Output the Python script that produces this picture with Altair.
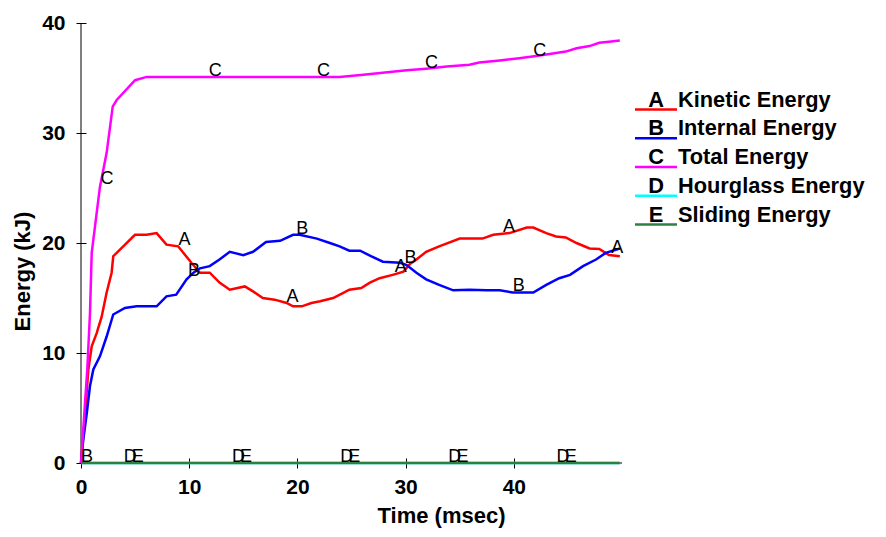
import altair as alt
import pandas as pd

# ---------------- data ----------------
series_names = ["Kinetic Energy", "Internal Energy", "Total Energy",
                "Hourglass Energy", "Sliding Energy"]
letters = ["A", "B", "C", "D", "E"]
colors = ["#ff0000", "#0000ff", "#ff00ff", "#00ffff", "#2e8040"]

# A  Kinetic Energy
a_t = [0, 0.3, 0.68, 0.99, 1.45, 1.91, 2.37, 2.83, 2.98, 4.99, 6.07, 6.99, 7.9, 8.98,
       10.2, 11.0, 11.9, 12.8, 13.75, 15.14, 15.9, 16.8, 17.9, 19.0, 19.6, 20.4, 21.3,
       22.1, 23.3, 24.2, 24.8, 25.9, 26.7, 27.6, 28.8, 29.8, 30.4, 31.0, 31.9, 33.1,
       35.0, 37.1, 38.1, 39.6, 41.2, 41.8, 43.0, 43.9, 44.8, 45.8, 47.0, 47.9, 48.8, 49.8]
a_v = [0, 3.5, 8.5, 10.6, 11.8, 13.3, 15.5, 17.3, 18.8, 20.75, 20.75, 20.9, 19.85, 19.7,
       18.2, 17.3, 17.3, 16.4, 15.75, 16.05, 15.6, 15.0, 14.85, 14.55, 14.24, 14.24, 14.55,
       14.7, 15.0, 15.45, 15.75, 15.9, 16.4, 16.8, 17.1, 17.4, 18.1, 18.5, 19.2, 19.7,
       20.4, 20.4, 20.75, 20.9, 21.4, 21.4, 20.9, 20.6, 20.5, 20.0, 19.5, 19.45, 18.9, 18.8]

# B  Internal Energy
b_t = [0, 0.21, 0.53, 0.83, 1.14, 1.75, 2.37, 2.98, 4.06, 5.14, 6.99, 7.9, 8.8, 9.76,
       10.4, 11.0, 11.9, 12.8, 13.75, 15.0, 15.9, 17.1, 18.4, 19.6, 20.2, 21.8, 23.0,
       23.9, 24.8, 25.8, 26.8, 27.9, 29.5, 30.1, 31.0, 31.9, 33.1, 34.4, 35.9, 37.5,
       38.7, 39.9, 41.8, 43.0, 44.2, 45.2, 46.4, 47.6, 48.5, 49.8]
b_v = [0, 2.1, 4.5, 7.0, 8.5, 9.7, 11.5, 13.5, 14.1, 14.24, 14.24, 15.15, 15.3, 16.7,
       17.3, 17.7, 17.9, 18.5, 19.2, 18.9, 19.2, 20.1, 20.2, 20.75, 20.75, 20.4, 20.0,
       19.7, 19.3, 19.3, 18.8, 18.3, 18.2, 18.0, 17.3, 16.7, 16.2, 15.7, 15.75, 15.7,
       15.7, 15.5, 15.5, 16.2, 16.8, 17.1, 17.9, 18.5, 19.1, 19.5]

# C  Total Energy
c_t = [0, 0.15, 0.37, 0.58, 0.83, 0.99, 1.75, 2.37, 2.93, 3.3, 5.0, 6.07, 23.9, 26.1,
       28.1, 30.1, 31.9, 33.8, 35.9, 36.8, 38.7, 40.5, 42.4, 44.8, 45.8, 47.0, 47.9,
       48.8, 49.8]
c_v = [0, 2.1, 5.5, 8.5, 13.6, 19.1, 25.1, 28.2, 32.4, 33.0, 34.8, 35.1, 35.1, 35.3,
       35.5, 35.7, 35.85, 36.05, 36.2, 36.4, 36.6, 36.8, 37.05, 37.4, 37.7, 37.9, 38.2,
       38.3, 38.4]

# D  Hourglass Energy, E  Sliding Energy
d_t = [0, 49.8]
d_v = [0, 0]
e_t = [0, 49.8]
e_v = [0, 0]

# curve letter markers
lab_a_t = [9.0, 19.0, 29.0, 39.0, 49.0]
lab_a_v = [19.7, 14.55, 17.3, 20.9, 19.0]
lab_b_t = [0.0, 9.9, 19.9, 29.9, 39.9]
lab_b_v = [0.0, 16.9, 20.75, 18.1, 15.55]
lab_c_t = [1.8, 11.8, 21.8, 31.8, 41.8]
lab_c_v = [25.3, 35.1, 35.1, 35.85, 36.9]
lab_d_t = [3.95, 13.95, 23.95, 33.95, 43.95]
lab_d_v = [0, 0, 0, 0, 0]
lab_e_t = [4.7, 14.7, 24.7, 34.7, 44.7]
lab_e_v = [0, 0, 0, 0, 0]

# axis frame lines
yaxis_t = [0, 0]
yaxis_v = [0, 40]
xaxis_t = [0, 50]
xaxis_v = [0, 0]

x_ticks = [0, 10, 20, 30, 40]
y_ticks = [0, 10, 20, 30, 40]

# ---------------- build tables ----------------
curves = [(a_t, a_v), (b_t, b_v), (c_t, c_v), (d_t, d_v), (e_t, e_v)]
marks = [(lab_a_t, lab_a_v), (lab_b_t, lab_b_v), (lab_c_t, lab_c_v),
         (lab_d_t, lab_d_v), (lab_e_t, lab_e_v)]

FONT = "Liberation Sans"

color_scale = alt.Scale(domain=series_names, range=colors)

x_enc = alt.X("t:Q", scale=alt.Scale(domain=[0, 50], nice=False, zero=False),
              axis=alt.Axis(values=x_ticks, title="Time (msec)", domain=False, grid=False,
                            offset=-5, tickSize=10, tickColor="black", tickWidth=1,
                            labelFont=FONT, labelFontSize=21, labelFontWeight="bold",
                            labelColor="black", labelPadding=8, labelFlush=False,
                            titleFont=FONT, titleFontSize=22, titleFontWeight="bold",
                            titleColor="black", titleX=360, titleY=57,
                            titleBaseline="middle", titleAlign="center"))
y_enc = alt.Y("v:Q", scale=alt.Scale(domain=[0, 40], nice=False, zero=False),
              axis=alt.Axis(values=y_ticks, title="Energy (kJ)", domain=False, grid=False,
                            offset=-5, tickSize=10, tickColor="black", tickWidth=1,
                            labelFont=FONT, labelFontSize=21, labelFontWeight="bold",
                            labelColor="black", labelPadding=11,
                            titleFont=FONT, titleFontSize=22, titleFontWeight="bold",
                            titleColor="black", titleX=-64, titleY=248,
                            titleBaseline="middle", titleAlign="center", titleAngle=-90))

layers = []

frame_df = pd.DataFrame({"t": yaxis_t + xaxis_t, "v": yaxis_v + xaxis_v,
                         "k": ["y", "y", "x", "x"]})
layers.append(alt.Chart(frame_df).mark_line(color="black", strokeWidth=1)
              .encode(x=x_enc, y=y_enc, detail="k:N"))

for name, (ts, vs) in zip(series_names, curves):
    df = pd.DataFrame({"t": ts, "v": vs, "series": name})
    layers.append(alt.Chart(df).mark_line(strokeWidth=2.5, interpolate="linear")
                  .encode(x=x_enc, y=y_enc,
                          color=alt.Color("series:N", scale=color_scale, legend=None)))

for letter, (ts, vs) in zip(letters, marks):
    df = pd.DataFrame({"t": ts, "v": vs, "letter": letter})
    layers.append(alt.Chart(df).mark_text(align="left", baseline="alphabetic", dy=-1,
                                          font=FONT, fontSize=18, color="black")
                  .encode(x=x_enc, y=y_enc, text="letter:N"))

main = alt.layer(*layers)

# ---------------- legend ----------------
legend_df = pd.DataFrame({"series": series_names, "letter": letters,
                          "idx": list(range(len(series_names)))})
ly = alt.Y("idx:Q", scale=alt.Scale(domain=[0, 4], range=[86.5, 201.5]), axis=None)
leg_base = alt.Chart(legend_df)
leg_lines = leg_base.mark_rule(strokeWidth=2.5).encode(
    x=alt.value(554), x2=alt.value(596), y=ly,
    color=alt.Color("series:N", scale=color_scale, legend=None))
leg_letters = leg_base.mark_text(align="center", baseline="alphabetic", dy=-3,
                                 font=FONT, fontSize=21.8, fontWeight="bold",
                                 color="black").encode(x=alt.value(575), y=ly, text="letter:N")
leg_labels = leg_base.mark_text(align="left", baseline="alphabetic", dy=-3,
                                font=FONT, fontSize=21.8, fontWeight="bold",
                                color="black").encode(x=alt.value(597), y=ly, text="series:N")
legend = alt.layer(leg_lines, leg_letters, leg_labels)

chart = (alt.layer(main, legend)
         .resolve_scale(y="independent")
         .properties(width=541, height=440,
                     autosize=alt.AutoSizeParams(type="none"),
                     padding={"left": 73, "top": 15, "right": 256, "bottom": 66},
                     background="white")
         .configure_view(stroke=None))

chart.save("out.html", embed_options={"renderer": "svg", "actions": False})
